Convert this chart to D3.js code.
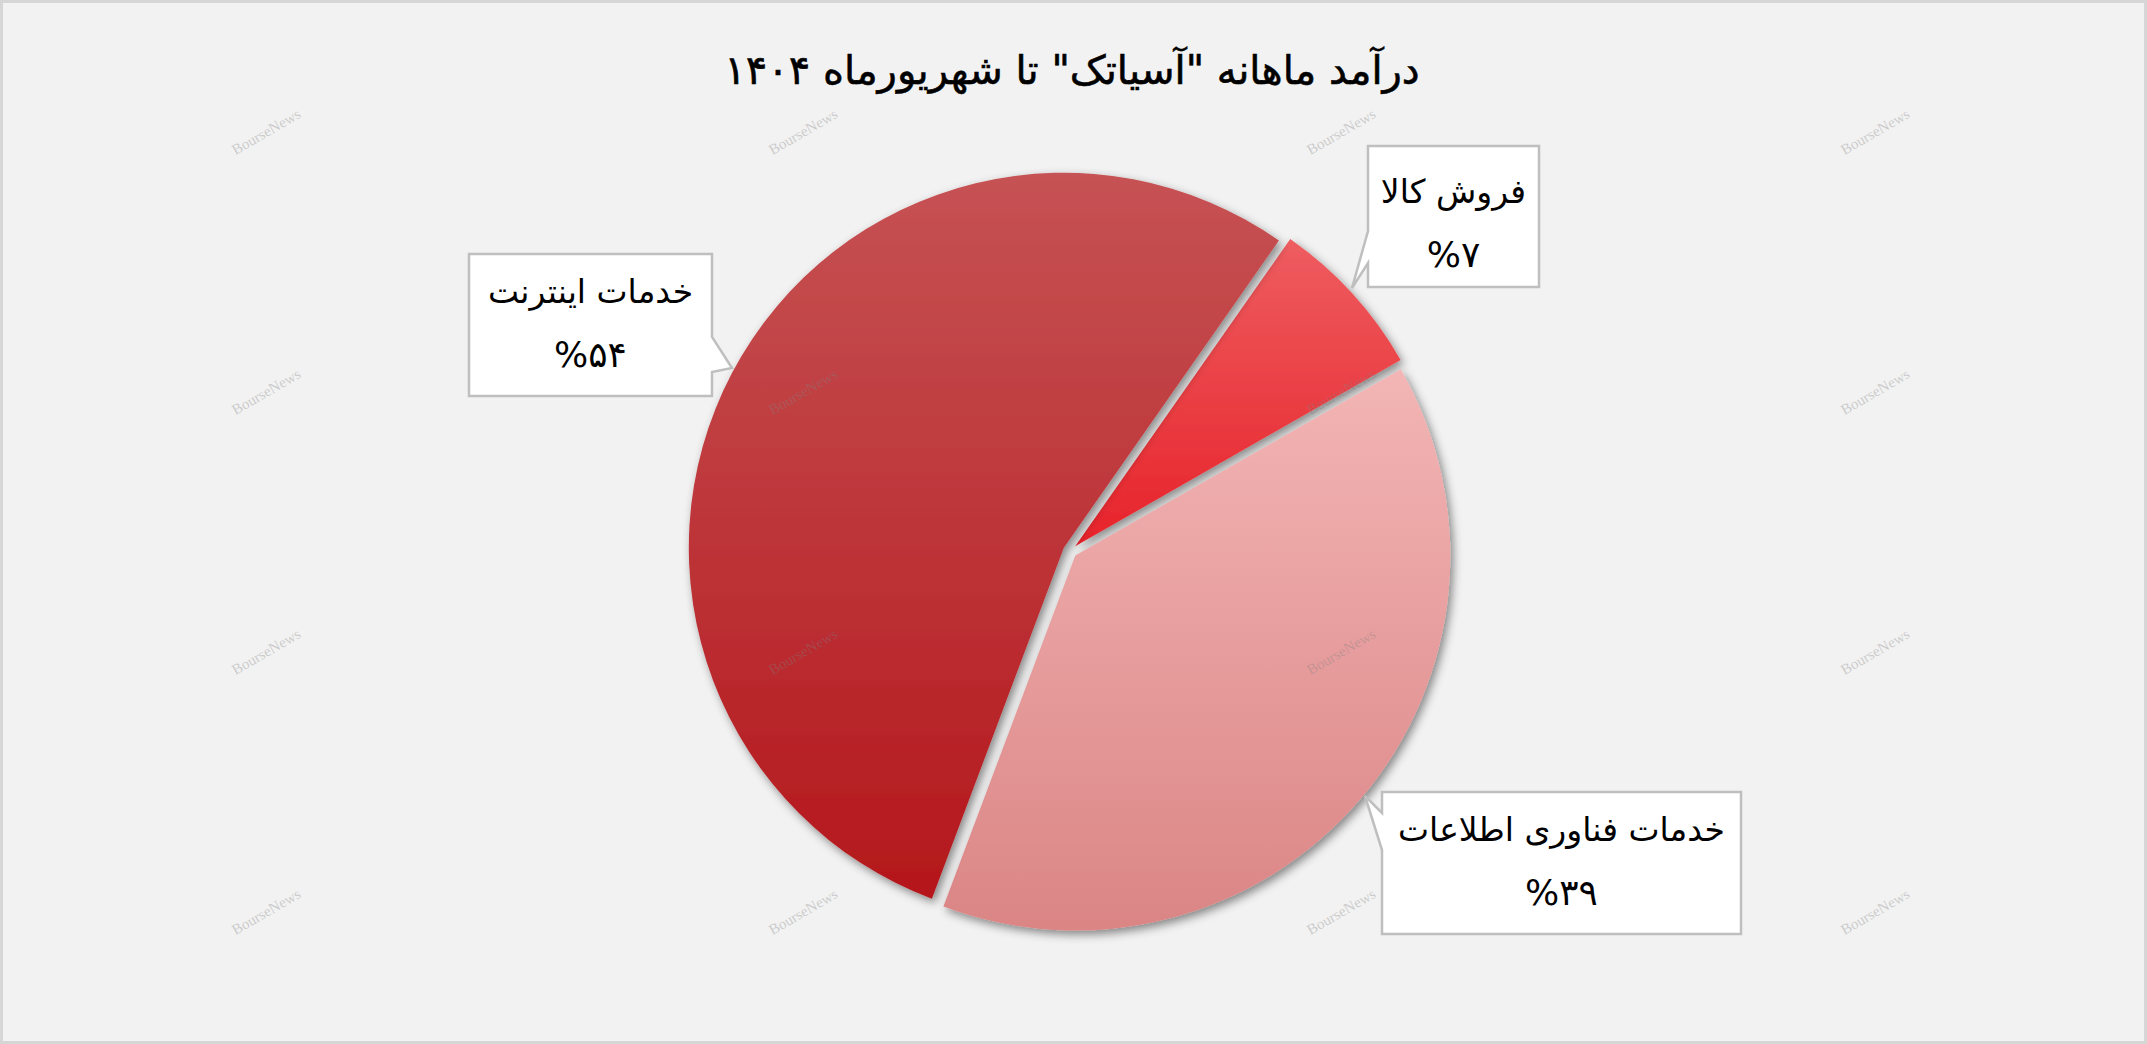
<!DOCTYPE html>
<html>
<head>
<meta charset="utf-8">
<script src="https://cdn.jsdelivr.net/npm/d3@7"></script>
<style>
  html, body { margin: 0; padding: 0; background: #f2f2f2; }
  svg { display: block; }
</style>
</head>
<body>
<script>
// ---- Data ----
const categories = ["فروش کالا", "خدمات فناوری اطلاعات", "خدمات اینترنت"];
const values = [7, 39, 54];
const valueLabels = ["%۷", "%۳۹", "%۵۴"];
const titleText = "درآمد ماهانه \"آسیاتک\" تا شهریورماه ۱۴۰۴";
const watermarkText = "BourseNews";

// ---- Layout ----
const W = 2147, H = 1044;
const cx = 1070, cy = 551, R = 375, explode = 7;
const startDeg = 35;

const svg = d3.select("body").append("svg")
  .attr("width", W).attr("height", H);

svg.append("rect").attr("x", 0).attr("y", 0).attr("width", W).attr("height", H)
  .attr("fill", "#f2f2f2");
svg.append("rect").attr("x", 1.5).attr("y", 1.5).attr("width", W - 3).attr("height", H - 3)
  .attr("fill", "none").attr("stroke", "#d6d6d6").attr("stroke-width", 3);

const defs = svg.append("defs");
const gradStops = [
  ["#ee5d60", "#e7222a"],
  ["#f3b5b5", "#db8585"],
  ["#c65254", "#b4171c"]
];
gradStops.forEach((g, i) => {
  const lg = defs.append("linearGradient").attr("id", "g" + i)
    .attr("x1", 0).attr("y1", 0).attr("x2", 0).attr("y2", 1);
  lg.append("stop").attr("offset", "0%").attr("stop-color", g[0]);
  lg.append("stop").attr("offset", "100%").attr("stop-color", g[1]);
});
const f = defs.append("filter").attr("id", "shadow")
  .attr("x", "-20%").attr("y", "-20%").attr("width", "140%").attr("height", "140%");
f.append("feDropShadow").attr("dx", 3).attr("dy", 4).attr("stdDeviation", 5)
  .attr("flood-color", "#000").attr("flood-opacity", 0.45);

// Title
svg.append("text")
  .attr("x", 1072).attr("y", 84)
  .attr("text-anchor", "middle")
  .attr("direction", "rtl")
  .attr("font-family", "DejaVu Sans, sans-serif")
  .attr("font-size", 40)
  .attr("fill", "#000")
  .attr("stroke", "#000").attr("stroke-width", 0.6)
  .text(titleText);

// Pie
const pie = d3.pie().sort(null)
  .startAngle(startDeg * Math.PI / 180)
  .endAngle(startDeg * Math.PI / 180 + 2 * Math.PI);
const arc = d3.arc().innerRadius(0).outerRadius(R);
const arcs = pie(values);

const g = svg.append("g").attr("transform", `translate(${cx},${cy})`);
g.selectAll("path.slice").data(arcs).join("path")
  .attr("class", "slice")
  .attr("transform", d => {
    const m = (d.startAngle + d.endAngle) / 2;
    return `translate(${explode * Math.sin(m)},${-explode * Math.cos(m)})`;
  })
  .attr("d", arc)
  .attr("fill", (d, i) => `url(#g${i})`)
  .attr("filter", "url(#shadow)");

// Callouts (box + pointer), in order of categories
const callouts = [
  { x0: 1368, y0: 146, x1: 1539, y1: 287, side: "left", b0: 231, b1: 263, tip: [1352, 288], ty: 203 },
  { x0: 1382, y0: 792, x1: 1741, y1: 934, side: "left", b0: 813, b1: 850, tip: [1365, 796], ty: 841 },
  { x0: 469, y0: 254, x1: 712, y1: 396, side: "right", b0: 337, b1: 372, tip: [732, 368], ty: 303 }
];
function calloutPath(c) {
  const p = d3.path();
  p.moveTo(c.x0, c.y0);
  p.lineTo(c.x1, c.y0);
  if (c.side === "right") {
    p.lineTo(c.x1, c.b0);
    p.lineTo(c.tip[0], c.tip[1]);
    p.lineTo(c.x1, c.b1);
  }
  p.lineTo(c.x1, c.y1);
  p.lineTo(c.x0, c.y1);
  if (c.side === "left") {
    p.lineTo(c.x0, c.b1);
    p.lineTo(c.tip[0], c.tip[1]);
    p.lineTo(c.x0, c.b0);
  }
  p.closePath();
  return p.toString();
}
const cg = svg.append("g");
callouts.forEach((c, i) => {
  cg.append("path").attr("d", calloutPath(c))
    .attr("fill", "#ffffff").attr("stroke", "#bfbfbf").attr("stroke-width", 2.5)
    .attr("stroke-linejoin", "miter");
  const mx = (c.x0 + c.x1) / 2;
  cg.append("text").attr("x", mx).attr("y", c.ty)
    .attr("text-anchor", "middle").attr("direction", "rtl")
    .attr("font-family", "DejaVu Sans, sans-serif").attr("font-size", 33)
    .attr("fill", "#000").text(categories[i]);
  cg.append("text").attr("x", mx).attr("y", c.ty + 64)
    .attr("text-anchor", "middle")
    .attr("font-family", "DejaVu Sans, sans-serif").attr("font-size", 36)
    .attr("fill", "#000").text(valueLabels[i]);
});

// Watermarks
const wmX = [267, 804, 1342, 1876];
const wmY = [133, 393, 653, 913];
const wg = svg.append("g");
wmY.forEach(y => wmX.forEach(x => {
  wg.append("text")
    .attr("transform", `translate(${x},${y}) rotate(-30)`)
    .attr("text-anchor", "middle").attr("dominant-baseline", "middle")
    .attr("font-family", "Liberation Serif, serif").attr("font-size", 15)
    .attr("fill", "#808080").attr("fill-opacity", 0.35)
    .text(watermarkText);
}));
</script>
</body>
</html>
